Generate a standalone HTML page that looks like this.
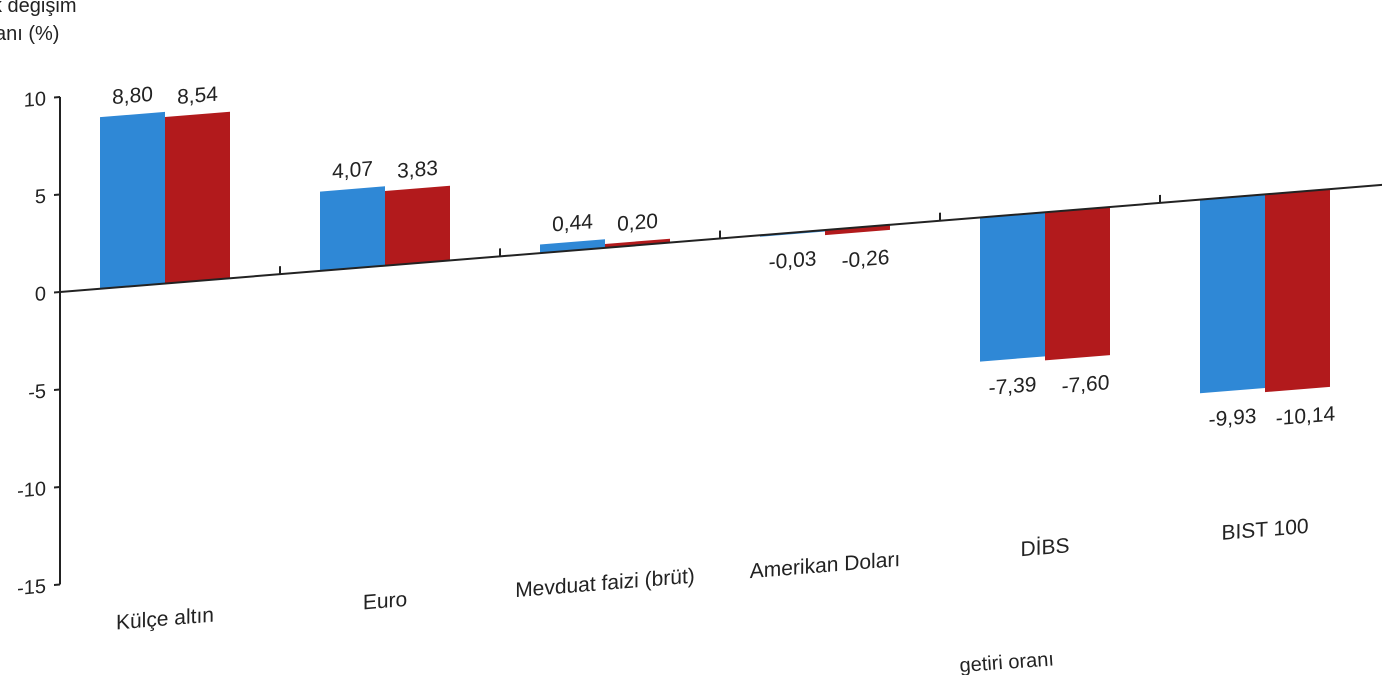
<!DOCTYPE html>
<html><head><meta charset="utf-8"><style>
body{margin:0;background:#fff;}
svg{display:block;font-family:"Liberation Sans Narrow","Liberation Sans",sans-serif;}
</style></head><body>
<svg id="chart" width="1382" height="675" viewBox="0 0 1382 675">
<text x="-8" y="12" font-size="20" fill="#222">k değişim</text>
<text x="-5" y="40" font-size="20" fill="#222">anı (%)</text>
<g id="plot" transform="matrix(1,-0.081,0,1,0,4.86)"></g>
<text x="960" y="672" font-size="20" fill="#222" transform="rotate(-4 960 672)">getiri oranı</text>
</svg>
<script>
const categories=["Külçe altın","Euro","Mevduat faizi (brüt)","Amerikan Doları","DİBS","BIST 100"];
const series1=[8.80,4.07,0.44,-0.03,-7.39,-9.93];
const series2=[8.54,3.83,0.20,-0.26,-7.60,-10.14];
const yTicks=[10,5,0,-5,-10,-15];
const fmt=v=>v.toFixed(2).replace('.',',');
const NS="http://www.w3.org/2000/svg";
const g=document.getElementById('plot');
const x0=60,band=220,bw=65;
const y=v=>292-v*19.5;
const xc=i=>x0+105+band*i;
function el(t,a){const e=document.createElementNS(NS,t);for(const k in a)e.setAttribute(k,a[k]);g.appendChild(e);return e;}
const ax=el('line',{x1:x0,y1:y(10),x2:x0,y2:y(-15),stroke:'#222','stroke-width':2});


yTicks.forEach(t=>{
 const l=el('line',{x1:x0-6,x2:x0,y1:y(t),y2:y(t),stroke:'#222','stroke-width':2});
 
 
 const tx=el('text',{x:x0-14,y:y(t)+7,'font-size':20,'text-anchor':'end',fill:'#222'});
 tx.textContent=String(t);
 
 
});
categories.forEach((c,i)=>{
 const cx=xc(i);
 [[series1[i],'#2f88d6',cx-bw],[series2[i],'#b21a1c',cx]].forEach(([v,col,bx],k)=>{
  const r=el('rect',{x:bx,y:Math.min(y(v),y(0)),width:bw,height:Math.max(Math.abs(y(v)-y(0)),1.5),fill:col});
  
  
  const t=el('text',{x:bx+bw/2+(v<0&&k?8:0),y:v>=0?y(v)-12:y(v)+34,'font-size':21,'text-anchor':'middle',fill:'#222'});
  t.textContent=fmt(v);
  
  
 });
 const lb=el('text',{x:cx,y:634,'font-size':21,'text-anchor':'middle',fill:'#222'});
 lb.textContent=c;
 
 
 if(i>0){const tk=el('line',{x1:x0+band*i,x2:x0+band*i,y1:y(0),y2:y(0)-8,stroke:'#222','stroke-width':2});
 
 }
});
const zl=el('line',{x1:x0,x2:1400,y1:y(0),y2:y(0),stroke:'#222','stroke-width':2});


</script>
</body></html>
